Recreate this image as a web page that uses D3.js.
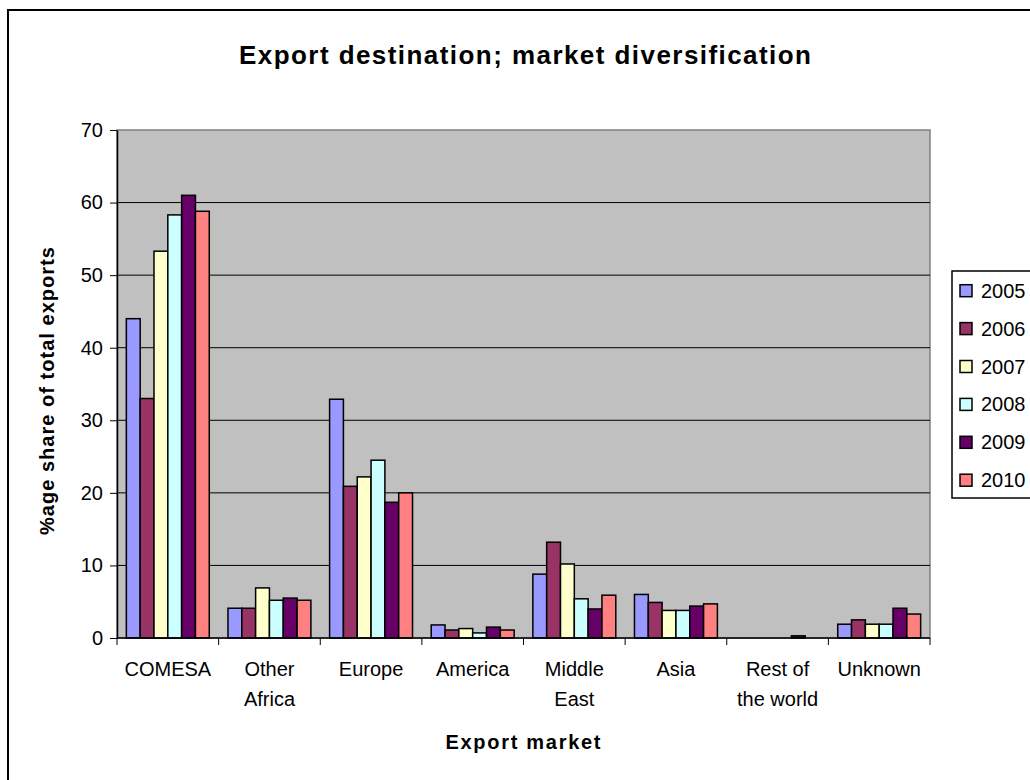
<!DOCTYPE html>
<html>
<head>
<meta charset="utf-8">
<script src="https://cdn.jsdelivr.net/npm/d3@7"></script>
<style>
  body { margin: 0; background: #fff; }
  svg { display: block; font-family: "Liberation Sans", Arial, sans-serif; }
</style>
</head>
<body>
<div id="chart"></div>
<script>
var markets = ["COMESA", "Other Africa", "Europe", "America", "Middle East", "Asia", "Rest of the world", "Unknown"];
var marketLines = [["COMESA"], ["Other", "Africa"], ["Europe"], ["America"], ["Middle", "East"], ["Asia"], ["Rest of", "the world"], ["Unknown"]];
var years = ["2005", "2006", "2007", "2008", "2009", "2010"];
var yearColors = ["#9999FF", "#993366", "#FFFFCC", "#CCFFFF", "#660066", "#FF8080"];

// share of exports per market, one array per year
var v2005 = [44.0, 4.1, 32.9, 1.8, 8.8, 6.0, 0, 1.9];
var v2006 = [33.0, 4.1, 20.9, 1.1, 13.2, 4.9, 0, 2.5];
var v2007 = [53.3, 6.9, 22.2, 1.3, 10.2, 3.8, 0, 1.9];
var v2008 = [58.3, 5.2, 24.5, 0.7, 5.4, 3.8, 0, 1.9];
var v2009 = [61.0, 5.5, 18.7, 1.5, 4.0, 4.4, 0.3, 4.1];
var v2010 = [58.8, 5.2, 20.0, 1.1, 5.9, 4.7, 0, 3.3];
var yTicks = [0, 10, 20, 30, 40, 50, 60, 70];

var series = [v2005, v2006, v2007, v2008, v2009, v2010];

function drawChart() {
    var W = 1030, H = 780;
    var pLeft = 117, pRight = 930, pTop = 130, pBottom = 638;

    var svg = d3.select("#chart").append("svg")
        .attr("width", W)
        .attr("height", H);

    // outer chart border
    svg.append("rect")
        .attr("x", 8).attr("y", 10)
        .attr("width", 1040).attr("height", 800)
        .attr("fill", "#fff")
        .attr("stroke", "#000")
        .attr("stroke-width", 2);

    var x = d3.scaleBand().domain(markets).range([pLeft, pRight]);
    var gap = x.bandwidth() * 0.092;
    var x1 = d3.scaleBand().domain(years).range([gap, x.bandwidth() - gap]);
    var y = d3.scaleLinear().domain([0, 70]).range([pBottom, pTop]);

    // plot area
    svg.append("rect")
        .attr("x", pLeft).attr("y", pTop)
        .attr("width", pRight - pLeft).attr("height", pBottom - pTop)
        .attr("fill", "#C0C0C0")
        .attr("stroke", "#808080")
        .attr("stroke-width", 1.5);

    // gridlines
    svg.selectAll("line.grid")
        .data(yTicks.filter(function (d) { return d > 0 && d < 70; }))
        .enter().append("line")
        .attr("class", "grid")
        .attr("x1", pLeft).attr("x2", pRight)
        .attr("y1", function (d) { return y(d); })
        .attr("y2", function (d) { return y(d); })
        .attr("stroke", "#000")
        .attr("stroke-width", 1);

    // bars
    var groups = svg.selectAll("g.market")
        .data(markets)
        .enter().append("g")
        .attr("class", "market")
        .attr("transform", function (d) { return "translate(" + x(d) + ",0)"; });

    groups.selectAll("rect")
        .data(function (d, i) {
            return years.map(function (yr, j) { return { year: yr, value: series[j][i], color: yearColors[j] }; });
        })
        .enter().append("rect")
        .filter(function (d) { return d.value > 0; })
        .attr("x", function (d) { return x1(d.year); })
        .attr("y", function (d) { return y(d.value); })
        .attr("width", x1.bandwidth())
        .attr("height", function (d) { return y(0) - y(d.value); })
        .attr("fill", function (d) { return d.color; })
        .attr("stroke", "#000")
        .attr("stroke-width", 1.5);

    // y axis
    var yAxis = svg.append("g")
        .attr("transform", "translate(" + pLeft + ",0)")
        .call(d3.axisLeft(y).tickValues(yTicks).tickSize(7).tickSizeOuter(0).tickPadding(7));
    yAxis.select(".domain").attr("stroke", "#000").attr("stroke-width", 1.5);
    yAxis.selectAll("text").attr("font-size", "20px").attr("font-family", "Liberation Sans, Arial, sans-serif").attr("fill", "#000");

    // x axis: ticks at category boundaries
    var xAxis = svg.append("g");
    xAxis.append("line")
        .attr("x1", pLeft).attr("x2", pRight)
        .attr("y1", pBottom).attr("y2", pBottom)
        .attr("stroke", "#000").attr("stroke-width", 1.5);
    xAxis.selectAll("line.tick")
        .data(markets.map(function (m) { return x(m); }).concat([pRight]))
        .enter().append("line")
        .attr("class", "tick")
        .attr("x1", function (d) { return d; }).attr("x2", function (d) { return d; })
        .attr("y1", pBottom).attr("y2", pBottom + 7)
        .attr("stroke", "#000");

    var labels = svg.selectAll("text.xlab")
        .data(markets)
        .enter().append("text")
        .attr("class", "xlab")
        .attr("text-anchor", "middle")
        .attr("font-size", "20px")
        .attr("fill", "#000");
    labels.each(function (d, i) {
        var t = d3.select(this);
        marketLines[i].forEach(function (line, k) {
            t.append("tspan")
                .attr("x", x(d) + x.bandwidth() / 2)
                .attr("y", 676 + k * 30)
                .text(line);
        });
    });

    // titles
    svg.append("text")
        .attr("x", 525).attr("y", 64)
        .attr("text-anchor", "middle")
        .attr("font-size", "26px")
        .attr("font-weight", "bold")
        .attr("textLength", 572)
        .attr("lengthAdjust", "spacing")
        .text("Export destination; market diversification");

    svg.append("text")
        .attr("x", 523).attr("y", 749)
        .attr("text-anchor", "middle")
        .attr("font-size", "20px")
        .attr("font-weight", "bold")
        .attr("textLength", 155)
        .attr("lengthAdjust", "spacing")
        .text("Export market");

    svg.append("text")
        .attr("transform", "translate(54,391) rotate(-90)")
        .attr("text-anchor", "middle")
        .attr("font-size", "20px")
        .attr("font-weight", "bold")
        .attr("textLength", 288)
        .attr("lengthAdjust", "spacing")
        .text("%age share of total exports");

    // legend
    var legend = svg.append("g");
    legend.append("rect")
        .attr("x", 952).attr("y", 271)
        .attr("width", 100).attr("height", 227)
        .attr("fill", "#fff")
        .attr("stroke", "#000")
        .attr("stroke-width", 1.5);

    var item = legend.selectAll("g.item")
        .data(years)
        .enter().append("g")
        .attr("class", "item")
        .attr("transform", function (d, i) { return "translate(0," + (290.7 + i * 37.9) + ")"; });
    item.append("rect")
        .attr("x", 960).attr("y", -6)
        .attr("width", 12).attr("height", 12)
        .attr("fill", function (d, i) { return yearColors[i]; })
        .attr("stroke", "#000")
        .attr("stroke-width", 1.5);
    item.append("text")
        .attr("x", 981).attr("y", 7)
        .attr("font-size", "20px")
        .attr("fill", "#000")
        .text(function (d) { return d; });
}

drawChart();
</script>
</body>
</html>
